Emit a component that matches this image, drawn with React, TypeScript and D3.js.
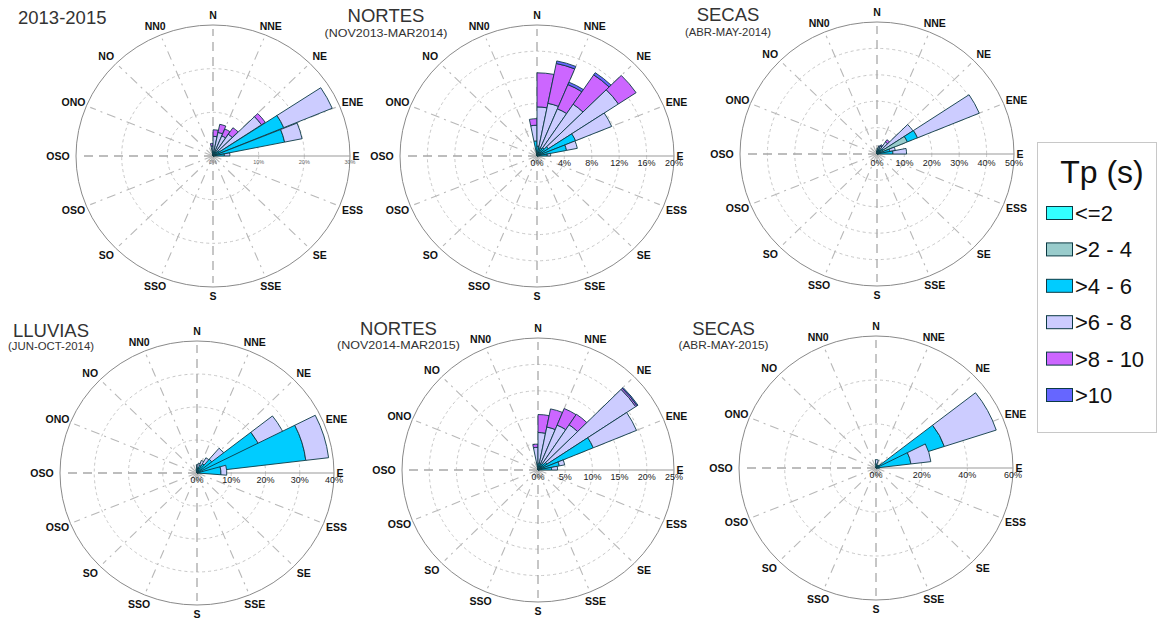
import React from 'react';
import * as d3 from 'd3';

// Tp classes
const classLabels = ['<=2', '>2 - 4', '>4 - 6', '>6 - 8', '>8 - 10', '>10'];
const classColors = ['#33ffff', '#99cccc', '#00ccff', '#ccccff', '#cc66ff', '#6666ff'];
// 16 compass labels, clockwise from N
const dirLabels = ['N', 'NNE', 'NE', 'ENE', 'E', 'ESS', 'SE', 'SSE', 'S', 'SSO', 'SO', 'OSO', 'OSO', 'ONO', 'NO', 'NN0'];
// direction bins of 11.25°, bin k counter-clockwise from E; rows = bins 0..8, cols = Tp classes (% of records)
const binStep = 11.25;

const rose2013_2015 = [
  [0.3, 0.4, 1.8, 1.2, 0, 0],
  [0.3, 0.5, 15.2, 3.9, 0, 0],
  [0.3, 0.5, 16.0, 11.5, 0, 0],
  [0.3, 0.4, 1.0, 11.1, 1.0, 0],
  [0.3, 0.3, 0.6, 4.8, 1.8, 0],
  [0.3, 0.3, 0.5, 3.9, 1.7, 0],
  [0.3, 0.3, 0.4, 4.5, 1.9, 0],
  [0.2, 0.3, 0.4, 3.6, 1.5, 0],
  [0.2, 0.3, 0.6, 1.2, 0.6, 0],
];
const roseNortes1314 = [
  [0.2, 0.3, 1.0, 0.5, 0, 0],
  [0.2, 0.3, 3.9, 1.6, 0, 0],
  [0.2, 0.3, 5.6, 5.7, 0, 0],
  [0.2, 0.3, 1.5, 12.3, 3.1, 0],
  [0.2, 0.3, 1.0, 8.0, 5.4, 0.4],
  [0.2, 0.3, 0.8, 6.5, 4.0, 0.4],
  [0.2, 0.3, 0.8, 6.9, 6.2, 0.4],
  [0.2, 0.3, 1.0, 6.0, 5.2, 0],
  [0.3, 0.5, 1.5, 2.4, 1.0, 0],
];
const roseSecas2014 = [
  [0.3, 0.5, 5.0, 5.0, 0, 0],
  [0.3, 0.5, 4.0, 2.0, 0, 0],
  [0.3, 11.7, 4.0, 24.4, 0, 0],
  [0.3, 0.5, 2.0, 13.0, 0, 0],
  [0.3, 0.5, 1.2, 3.5, 1.0, 0],
  [0.3, 0.5, 1.0, 1.5, 0.5, 0],
  [0.3, 0.5, 0.8, 1.2, 0.4, 0],
  [0.3, 0.5, 0.6, 0.8, 0, 0],
  [0.3, 0.4, 0.5, 0, 0, 0],
];
const roseLluvias2014 = [
  [0.3, 0.5, 6.2, 1.7, 0, 0],
  [0.3, 0.5, 31.2, 6.7, 0, 0],
  [0.3, 0.5, 19.2, 8.0, 0, 0],
  [0.3, 0.5, 4.7, 4.4, 0, 0],
  [0.3, 0.4, 2.5, 2.1, 0, 0],
  [0.2, 0.4, 1.8, 1.6, 0, 0],
  [0.2, 0.3, 1.2, 1.3, 0, 0],
  [0.2, 0.3, 1.0, 1.0, 0, 0],
  [0.2, 0.3, 0.5, 0, 0, 0],
];
const roseNortes1415 = [
  [0.2, 0.3, 2.0, 1.1, 0, 0],
  [0.2, 0.3, 3.5, 1.0, 0, 0],
  [0.2, 0.3, 10.5, 8.6, 0, 0],
  [0.2, 0.3, 1.5, 19.6, 0.3, 0.2],
  [0.2, 0.3, 1.0, 8.8, 2.4, 0],
  [0.2, 0.3, 0.8, 7.9, 3.4, 0],
  [0.2, 0.3, 0.8, 7.0, 3.5, 0],
  [0.2, 0.3, 0.8, 5.8, 3.4, 0],
  [0.2, 0.3, 0.6, 3.2, 0.6, 0],
];
const roseSecas2015 = [
  [0.3, 0.5, 0.7, 0, 0, 0],
  [0.3, 0.5, 14.6, 8.8, 0, 0],
  [0.3, 0.5, 30.7, 23.9, 0, 0],
  [0.3, 0.5, 1.0, 0, 0, 0],
  [0.3, 0.4, 0.5, 0, 0, 0],
  [0.3, 0.4, 0.5, 0, 0, 0],
  [0.3, 0.4, 0.5, 0, 0, 0],
  [0.3, 0.5, 1.0, 2.0, 0, 0],
  [0.2, 0.3, 0, 0, 0, 0],
];

const ticks1 = [0, 10, 20, 30];
const ticks2 = [0, 4, 8, 12, 16, 20];
const ticks3 = [0, 10, 20, 30, 40, 50];
const ticks4 = [0, 10, 20, 30, 40];
const ticks5 = [0, 5, 10, 15, 20, 25];
const ticks6 = [0, 20, 40, 60];

const panels = [
  { title: '2013-2015', sub: '', titleX: 18, titleAnchor: 'start', titleY: 23.5, subY: 0, subW: 0, cx: 213, cy: 156, rx: 137, ry: 131, data: rose2013_2015, ticks: ticks1, width: 10.8, tickFont: 5.5, tickDy: 7.5, tickColor: '#666' },
  { title: 'NORTES', sub: '(NOV2013-MAR2014)', titleX: 386, titleAnchor: 'middle', titleY: 21.5, subY: 37, subW: 123, cx: 537, cy: 156, rx: 137, ry: 131, data: roseNortes1314, ticks: ticks2, width: 11.25, tickFont: 9, tickDy: 10, tickColor: '#222' },
  { title: 'SECAS', sub: '(ABR-MAY-2014)', titleX: 728, titleAnchor: 'middle', titleY: 20.5, subY: 36, subW: 86, cx: 877, cy: 154, rx: 137, ry: 132, data: roseSecas2014, ticks: ticks3, width: 11.25, tickFont: 9, tickDy: 12, tickColor: '#222' },
  { title: 'LLUVIAS', sub: '(JUN-OCT-2014)', titleX: 51, titleAnchor: 'middle', titleY: 336.5, subY: 350, subW: 86, cx: 197, cy: 473, rx: 137, ry: 132, data: roseLluvias2014, ticks: ticks4, width: 20, tickFont: 9, tickDy: 10, tickColor: '#222' },
  { title: 'NORTES', sub: '(NOV2014-MAR2015)', titleX: 398.5, titleAnchor: 'middle', titleY: 334.5, subY: 349, subW: 123, cx: 538, cy: 470, rx: 136, ry: 132, data: roseNortes1415, ticks: ticks5, width: 11.25, tickFont: 9, tickDy: 10, tickColor: '#222' },
  { title: 'SECAS', sub: '(ABR-MAY-2015)', titleX: 723.5, titleAnchor: 'middle', titleY: 334.5, subY: 349, subW: 90, cx: 876, cy: 468, rx: 137, ry: 132, data: roseSecas2015, ticks: ticks6, width: 20, tickFont: 9, tickDy: 10, tickColor: '#222' },
];

const FONT = '"Liberation Sans", Arial, Helvetica, sans-serif';
const rad = (d: number) => (d * Math.PI) / 180;

function Rose({ p }: { p: any }) {
  const max = p.ticks[p.ticks.length - 1];
  const r = d3.scaleLinear().domain([0, max]).range([0, p.rx]);
  const ky = p.ry / p.rx;
  const arc = d3.arc<any>();
  const pt = (rr: number, deg: number) => [
    p.cx + rr * Math.cos(rad(deg)),
    p.cy - rr * ky * Math.sin(rad(deg)),
  ];

  // wedges: draw higher bins first so lower bins lie on top
  const wedges: any[] = [];
  const bins = d3.range(p.data.length).reverse();
  bins.forEach((k: number) => {
    const vals: number[] = p.data[k];
    const cum = d3.cumsum(vals);
    const mid = (k + 0.5) * binStep;
    const a0 = mid - p.width / 2;
    const a1 = mid + p.width / 2;
    vals.forEach((v, c) => {
      if (v <= 0) return;
      const inner = c === 0 ? 0 : cum[c - 1];
      const d = arc({
        innerRadius: r(inner),
        outerRadius: r(cum[c]),
        startAngle: rad(90 - a1),
        endAngle: rad(90 - a0),
      });
      wedges.push(
        <path key={`w${k}-${c}`} d={d || ''} fill={classColors[c]} stroke="#0b3a44" strokeWidth={0.9}
          vectorEffect="non-scaling-stroke" strokeLinejoin="round" />
      );
    });
  });

  const gridTicks = p.ticks.slice(1, -1);

  return (
    <g>
      {gridTicks.map((t: number) => (
        <ellipse key={`g${t}`} cx={p.cx} cy={p.cy} rx={r(t)} ry={r(t) * ky} fill="none"
          stroke="#c8c8c8" strokeWidth={1} strokeDasharray="3,3" />
      ))}
      {dirLabels.map((lab, i) => {
        const deg = 90 - i * 22.5;
        if (i === 4) return null;
        const [x1, y1] = pt(0, deg);
        const [x2, y2] = pt(p.rx * 0.97, deg);
        const main = i % 4 === 0;
        return (
          <line key={`r${i}`} x1={x1} y1={y1} x2={x2} y2={y2}
            stroke={main ? '#a8a8a8' : '#b8b8b8'} strokeWidth={main ? 1.3 : 1.1}
            strokeDasharray={main ? '9,6' : '9,5,2,5'} />
        );
      })}
      <ellipse cx={p.cx} cy={p.cy} rx={p.rx} ry={p.ry} fill="none" stroke="#8a8a8a" strokeWidth={1} />
      <line x1={p.cx} y1={p.cy} x2={p.cx + p.rx} y2={p.cy} stroke="#999" strokeWidth={1.2} />
      <g transform={`translate(${p.cx},${p.cy}) scale(1,${ky})`}>{wedges}</g>
      {p.ticks.map((t: number) => (
        <text key={`t${t}`} x={p.cx + r(t)} y={p.cy + p.tickDy} fontSize={p.tickFont} fill={p.tickColor}
          textAnchor="middle" fontFamily={FONT}>{`${t}%`}</text>
      ))}
      {dirLabels.map((lab, i) => {
        const deg = 90 - i * 22.5;
        let ex = 14;
        if (i === 4) ex = 6;
        if (i === 12) ex = 18;
        const x = p.cx + (p.rx + ex) * Math.cos(rad(deg));
        const y = p.cy - (p.ry + 9.5) * Math.sin(rad(deg)) + 3.8;
        return (
          <text key={`d${i}`} x={x} y={Math.min(y, 617.5)} fontSize={10.5} fontWeight="bold" fill="#111"
            textAnchor="middle" fontFamily={FONT}>{lab}</text>
        );
      })}
      <text x={p.titleX} y={p.titleY} fontSize={18.5} fill="#333" textAnchor={p.titleAnchor}
        fontFamily={FONT}>{p.title}</text>
      {p.sub && (
        <text x={p.titleX} y={p.subY} fontSize={11.5} fill="#333" textAnchor="middle"
          textLength={p.subW} lengthAdjust="spacingAndGlyphs" fontFamily={FONT}>{p.sub}</text>
      )}
    </g>
  );
}

export default function App() {
  const legendY = d3.scaleLinear().domain([0, 5]).range([213, 395]);
  return (
    <svg width={1159} height={619} style={{ position: 'absolute', left: 0, top: 0, background: '#fff' }}
      fontFamily={FONT}>
      <rect x={0} y={0} width={1159} height={619} fill="#fff" />
      {panels.map((p, i) => <Rose key={i} p={p} />)}
      <g>
        <rect x={1037.5} y={142.5} width={119} height={290} fill="#fff" stroke="#c8c8c8" strokeWidth={1} />
        <text x={1102} y={183} fontSize={32} fill="#111" textAnchor="middle">Tp (s)</text>
        {classLabels.map((lab, i) => (
          <g key={lab}>
            <rect x={1046.5} y={legendY(i) - 6.5} width={26} height={13} fill={classColors[i]}
              stroke="#0b3a44" strokeWidth={1} />
            <text x={1075} y={legendY(i) + 8} fontSize={22} fill="#111">{lab}</text>
          </g>
        ))}
      </g>
    </svg>
  );
}
